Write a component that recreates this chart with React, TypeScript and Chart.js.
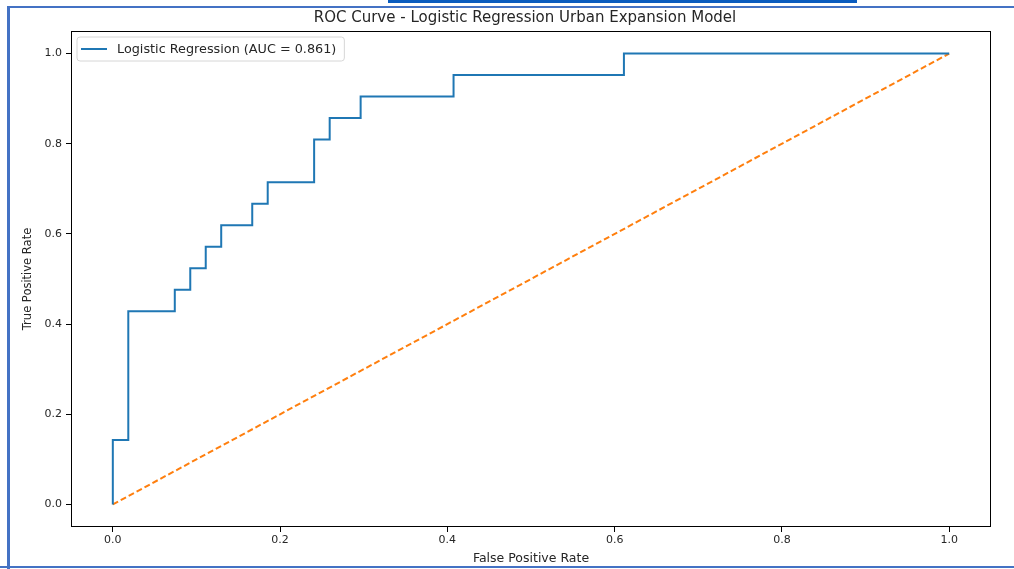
import React, { useEffect, useRef } from "react";
import { Chart, registerables } from "chart.js";

Chart.register(...registerables);

const TITLE = "ROC Curve - Logistic Regression Urban Expansion Model";
const X_LABEL = "False Positive Rate";
const Y_LABEL = "True Positive Rate";
const SERIES_LABEL = "Logistic Regression (AUC = 0.861)";

const FPR = [0, 0, 0.0185, 0.0185, 0.0741, 0.0741, 0.0926, 0.0926, 0.1111, 0.1111, 0.1296, 0.1296, 0.1667, 0.1667, 0.1852, 0.1852, 0.2407, 0.2407, 0.2593, 0.2593, 0.2963, 0.2963, 0.4074, 0.4074, 0.6111, 0.6111, 1.0];
const TPR = [0, 0.1429, 0.1429, 0.4286, 0.4286, 0.4762, 0.4762, 0.5238, 0.5238, 0.5714, 0.5714, 0.619, 0.619, 0.6667, 0.6667, 0.7143, 0.7143, 0.8095, 0.8095, 0.8571, 0.8571, 0.9048, 0.9048, 0.9524, 0.9524, 1.0, 1.0];
const CHANCE_X = [0, 1];
const CHANCE_Y = [0, 1];
const TICKS = [0, 0.2, 0.4, 0.6, 0.8, 1.0];

const FONT = "'DejaVu Sans', sans-serif";
const TEXT_COLOR = "#262626";

const framePlugin = {
  id: "framePlugin",
  afterDraw(chart: any) {
    const { ctx, chartArea } = chart;
    const { left, right, top, bottom } = chartArea;
    ctx.save();
    // spines
    ctx.strokeStyle = "#000";
    ctx.lineWidth = 1;
    ctx.strokeRect(left + 0.5, top + 0.5, right - left - 1, bottom - top - 1);
    // title
    ctx.fillStyle = TEXT_COLOR;
    ctx.font = `15px ${FONT}`;
    ctx.textAlign = "center";
    ctx.textBaseline = "middle";
    ctx.fillText(TITLE, (left + right) / 2 - 6, 18);
    // legend
    const ds = chart.data.datasets[0];
    ctx.font = `12.8px ${FONT}`;
    const bx = left + 6;
    const by = top + 6;
    const textX = bx + 40;
    const tw = ctx.measureText(ds.label).width;
    const bw = textX - bx + tw + 8;
    const bh = 24;
    ctx.beginPath();
    const r = 3;
    ctx.moveTo(bx + r, by);
    ctx.lineTo(bx + bw - r, by);
    ctx.quadraticCurveTo(bx + bw, by, bx + bw, by + r);
    ctx.lineTo(bx + bw, by + bh - r);
    ctx.quadraticCurveTo(bx + bw, by + bh, bx + bw - r, by + bh);
    ctx.lineTo(bx + r, by + bh);
    ctx.quadraticCurveTo(bx, by + bh, bx, by + bh - r);
    ctx.lineTo(bx, by + r);
    ctx.quadraticCurveTo(bx, by, bx + r, by);
    ctx.closePath();
    ctx.fillStyle = "rgba(255,255,255,0.8)";
    ctx.fill();
    ctx.strokeStyle = "#d6d6d6";
    ctx.lineWidth = 1;
    ctx.stroke();
    ctx.beginPath();
    ctx.strokeStyle = ds.borderColor;
    ctx.lineWidth = 2;
    ctx.moveTo(bx + 4, by + bh / 2);
    ctx.lineTo(bx + 30, by + bh / 2);
    ctx.stroke();
    ctx.fillStyle = TEXT_COLOR;
    ctx.textAlign = "left";
    ctx.textBaseline = "middle";
    ctx.fillText(ds.label, textX, by + bh / 2 + 0.5);
    ctx.restore();
  },
};

export default function App() {
  const ref = useRef<HTMLCanvasElement | null>(null);

  useEffect(() => {
    if (!ref.current) return;
    const chart = new Chart(ref.current, {
      type: "scatter",
      data: {
        datasets: [
          {
            label: SERIES_LABEL,
            data: FPR.map((x, i) => ({ x, y: TPR[i] })),
            showLine: true,
            borderColor: "#1f77b4",
            backgroundColor: "#1f77b4",
            borderWidth: 2,
            pointRadius: 0,
            tension: 0,
          },
          {
            label: "Chance",
            data: CHANCE_X.map((x, i) => ({ x, y: CHANCE_Y[i] })),
            showLine: true,
            borderColor: "#ff7f0e",
            backgroundColor: "#ff7f0e",
            borderWidth: 2,
            borderDash: [6, 3],
            pointRadius: 0,
          },
        ],
      },
      options: {
        responsive: false,
        animation: false,
        devicePixelRatio: 1,
        layout: { padding: { top: 31, right: 23, left: 0, bottom: 0 } },
        plugins: {
          legend: { display: false },
          title: { display: false },
          tooltip: { enabled: false },
        },
        scales: {
          x: {
            type: "linear",
            min: -0.05,
            max: 1.05,
            afterBuildTicks: (s: any) => {
              s.ticks = TICKS.map((v) => ({ value: v }));
            },
            afterFit: (s: any) => {
              s.height = 42;
            },
            grid: { drawOnChartArea: false, drawTicks: true, tickLength: 5, color: "#000" },
            border: { display: false },
            ticks: {
              padding: 2,
              color: TEXT_COLOR,
              font: { family: FONT, size: 11 },
              maxRotation: 0,
              callback: (v: any) => Number(v).toFixed(1),
            },
            title: {
              display: true,
              text: X_LABEL,
              color: TEXT_COLOR,
              font: { family: FONT, size: 12.5 },
              padding: { top: 0, bottom: 3 },
            },
          },
          y: {
            type: "linear",
            min: -0.05,
            max: 1.05,
            afterBuildTicks: (s: any) => {
              s.ticks = TICKS.map((v) => ({ value: v }));
            },
            afterFit: (s: any) => {
              s.width = 71;
            },
            grid: { drawOnChartArea: false, drawTicks: true, tickLength: 5, color: "#000" },
            border: { display: false },
            ticks: {
              padding: 4,
              color: TEXT_COLOR,
              font: { family: FONT, size: 11 },
              callback: (v: any) => Number(v).toFixed(1),
            },
            title: {
              display: true,
              text: Y_LABEL,
              color: TEXT_COLOR,
              font: { family: FONT, size: 11.5 },
              padding: { top: 21, bottom: 0 },
            },
          },
        },
      },
      plugins: [framePlugin],
    } as any);
    return () => chart.destroy();
  }, []);

  return (
    <div style={{ position: "absolute", left: 0, top: 0, width: 1014, height: 569, background: "#fff", overflow: "hidden" }}>
      <canvas ref={ref} width={1014} height={569} style={{ width: 1014, height: 569, display: "block" }} />
      <div style={{ position: "absolute", left: 388, top: 0, width: 469, height: 3, background: "#0a5cbf" }} />
      <div style={{ position: "absolute", left: 7, top: 6, width: 1007, height: 2, background: "#4472c4" }} />
      <div style={{ position: "absolute", left: 7, top: 6, width: 3, height: 563, background: "#4472c4" }} />
      <div style={{ position: "absolute", left: 0, top: 566, width: 1014, height: 2, background: "#4472c4" }} />
    </div>
  );
}
